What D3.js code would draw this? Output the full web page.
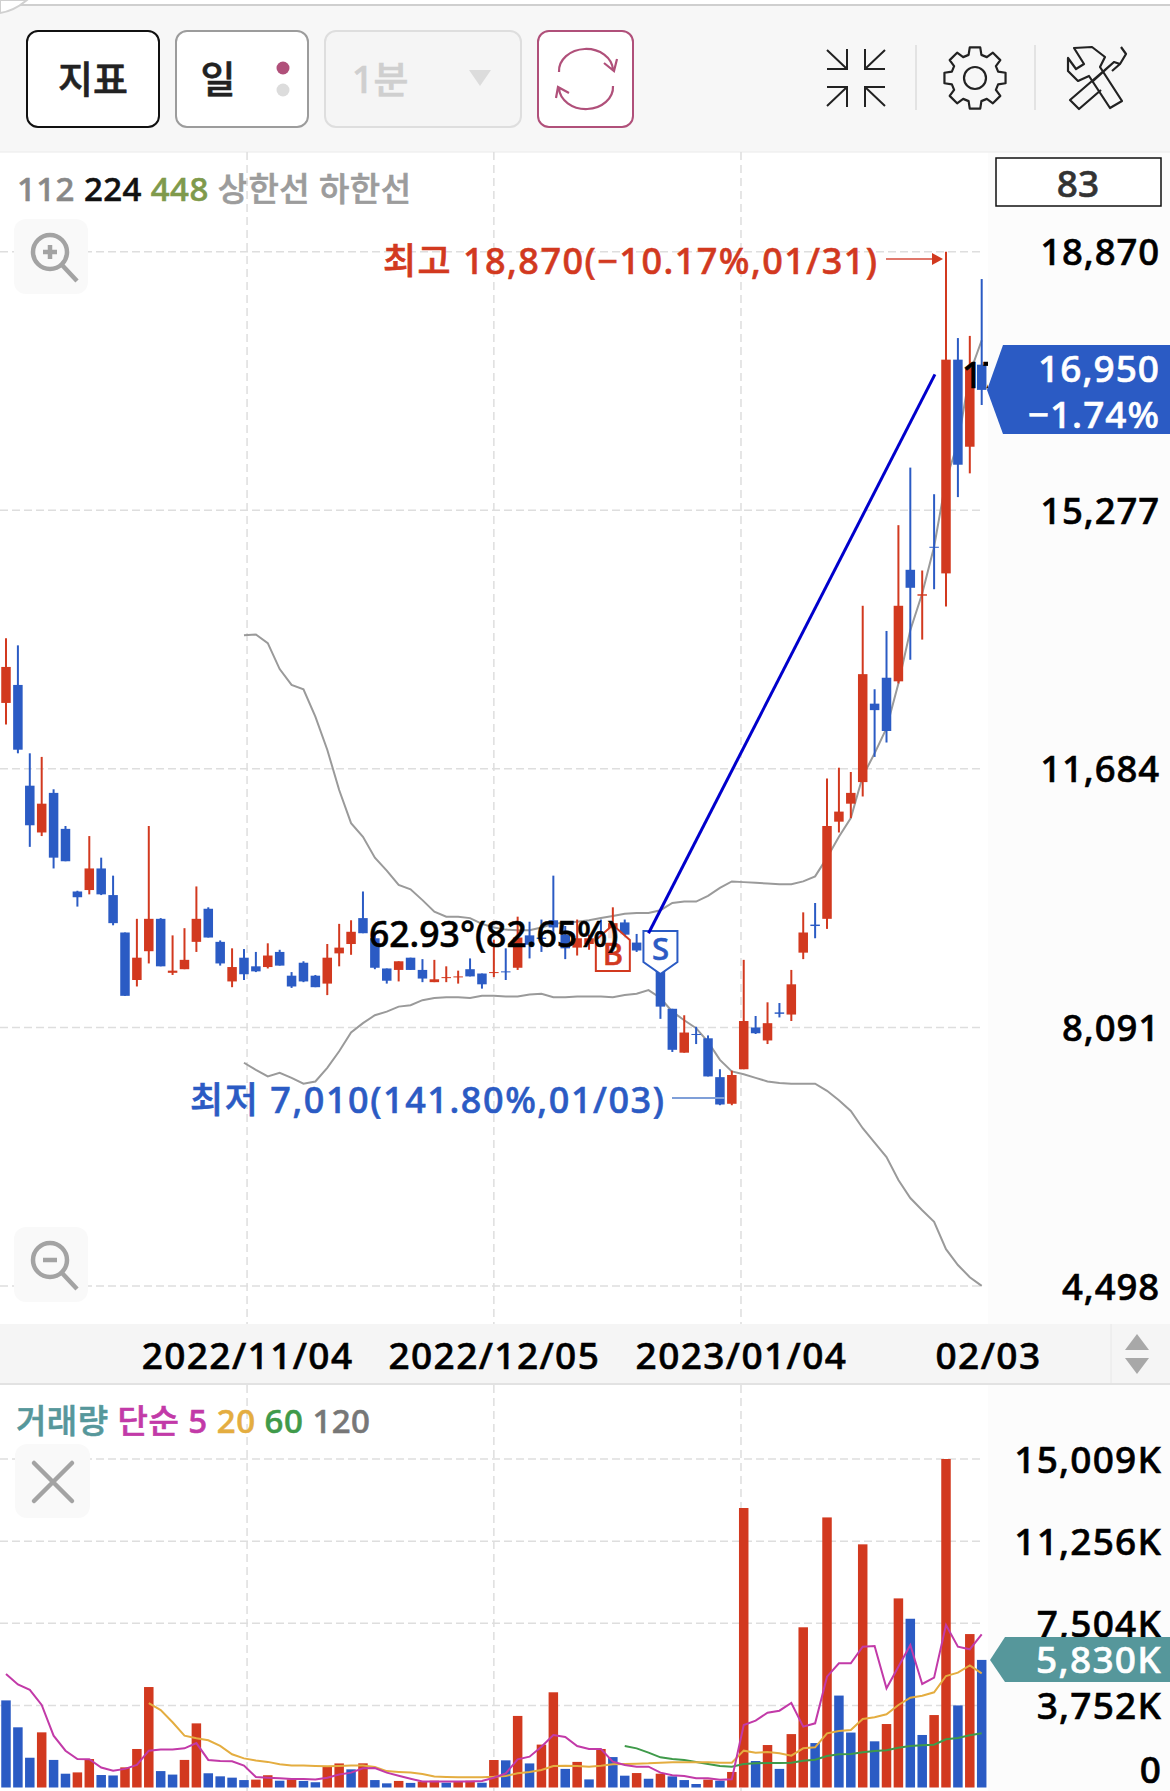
<!DOCTYPE html>
<html>
<head>
<meta charset="utf-8">
<script src="https://cdn.jsdelivr.net/npm/d3@7"></script>
<style>
  html, body { margin:0; padding:0; background:#fff; }
  svg { display:block; }
  text { font-family:"Noto Sans","Noto Sans CJK KR",sans-serif; font-weight:500; }
</style>
</head>
<body>
<div id="chart"></div>
<script>
// candles
var candleOpen = [
 12600,12850,11450,10800,11350,10850,9980,10000,10300,9930,
 9410,8750,9150,9600,8850,8900,9280,9740,9280,8730,
 9060,8940,8930,9140,8810,8990,8810,8700,9120,9250,
 9610,9330,8910,8890,9060,8890,8720,8780,8790,8900,
 8840,8850,8870,8920,9370,9340,9580,9380,9200,9250,
 9340,9330,9550,9270,9240,8980,8350,7740,8000,7940,
 7400,7030,7510,8090,7910,8300,8270,9130,9520,9600,
 10950,11200,11500,12590,12950,12900,14450,14090,14770,14400,
 17370,16160,17300]
var candleClose = [
 13100,11950,10900,11200,10450,10400,9900,10300,9940,9540,
 8530,9060,9600,8940,8880,9030,9600,9340,8980,8930,
 8830,8870,9090,8950,8660,8730,8650,9060,9200,9420,
 9400,8920,8740,9010,8890,8770,8760,8790,8800,8800,
 8690,8860,8860,9340,9240,9320,9480,9190,9330,9330,
 9330,9540,9380,9160,9170,8380,7780,8020,7990,7410,
 7020,7430,8180,8010,8150,8280,8690,9410,9500,10890,
 11090,11350,13000,12500,12210,13950,14200,14110,14760,17370,
 15910,17250,16950]
var candleHigh = [
 13500,13400,11900,11850,11400,10890,9990,10750,10450,10200,
 9410,9600,10890,9610,9370,9470,10050,9760,9300,9190,
 9180,9140,9260,9170,8860,9010,8820,9250,9530,9580,
 9980,9400,8910,9010,9060,9040,9030,8940,8880,9050,
 8840,9310,9190,9630,9560,9590,10200,9500,9590,9380,
 9590,9760,9590,9390,9310,8980,8350,8260,8100,7980,
 7510,7490,9030,8250,8440,8430,8890,9690,9820,11550,
 11700,11640,13950,12790,13600,15070,15870,14440,15500,18870,
 17670,17700,18490]
var candleLow = [
 12300,11900,10600,10750,10300,10400,9770,9940,9930,9510,
 8530,8660,8980,8940,8820,8900,9140,9340,8950,8650,
 8750,8860,8910,8950,8640,8720,8650,8540,8940,9100,
 9400,8900,8700,8730,8890,8720,8720,8720,8700,8800,
 8630,8790,8750,8890,9050,9140,9300,9040,9090,9170,
 9210,9300,9330,9140,9120,8210,7750,7740,7860,7410,
 7010,7010,7510,8000,7860,8230,8180,9040,9330,9460,
 10800,11000,11300,11850,12050,12870,13200,13480,14180,13940,
 15460,15790,16740]

// bands start at candle 20
var bandStart = 20
var upperBand = [
 13540,13550,13430,13070,12850,12790,12410,11950,11390,10930,
 10740,10450,10270,10070,10010,9860,9700,9630,9630,9610,
 9530,9480,9450,9440,9440,9480,9530,9550,9560,9580,
 9610,9640,9670,9680,9680,9720,9820,9840,9840,9920,
 10030,10120,10110,10100,10090,10080,10080,10120,10190,10450,
 10740,11000,11580,11900,12250,12870,13610,14120,14770,15700,
 16210,17180,17640]
var lowerBand = [
 7600,7500,7410,7460,7390,7310,7340,7530,7760,8020,
 8150,8260,8310,8380,8400,8470,8500,8510,8510,8500,
 8530,8530,8520,8520,8550,8560,8510,8510,8520,8520,
 8520,8510,8540,8560,8610,8500,8310,8190,8080,7890,
 7640,7480,7440,7390,7340,7320,7310,7310,7310,7210,
 7080,6930,6690,6490,6290,5970,5720,5550,5390,5010,
 4790,4620,4500]

// volume in K
var volume = [
 3980,2750,1360,2520,1260,630,690,1300,570,550,
 920,1760,4590,750,590,1260,2930,650,510,450,
 340,360,560,310,370,300,240,950,1100,830,
 1104,340,190,300,210,270,310,220,270,310,
 220,1256,1241,3270,1100,1960,4350,850,1170,370,
 1760,1390,540,660,400,630,510,340,160,360,
 310,710,12770,1210,1940,850,2440,7320,2030,12340,
 4200,2510,11110,2110,2900,8640,7710,2400,3310,15009,
 3750,7010,5830]
var ma5 = [
 5190,4710,4460,3770,2370,1680,1300,1290,910,770,
 850,1030,1680,1740,1740,1790,2030,1260,1210,1200,
 1000,480,450,420,390,390,370,450,590,680,
 880,890,680,540,400,270,270,270,270,270,
 297,449,647,1287,1409,1866,2399,2307,1896,1759,
 1759,1180,1028,952,952,678,556,525,419,419,
 358,373,2855,3054,3419,3510,3861,2779,2932,5064,
 5673,5673,6435,6465,4531,5521,6511,4729,5018,7424,
 6435,6313,6998]
var ma20Start = 12
var ma20 = [
 3850,3540,2980,2370,2250,2160,1900,1520,1330,1230,
 1170,1060,1010,1000,980,970,980,1000,1000,940,
 750,710,680,620,500,480,470,470,470,490,
 525,647,708,800,982,998,982,952,998,1058,
 1074,1089,1104,1135,1150,1150,1150,1150,1135,1135,
 1683,1592,1622,1561,1454,1789,1835,2475,2582,2627,
 3130,3206,3343,3769,4105,4196,4348,5094,5247,5582,
 5216]
var ma60Start = 52
var ma60 = [
 1896,1789,1592,1378,1302,1256,1165,1074,982,952,
 1074,1104,1119,1119,1135,1226,1272,1439,1515,1531,
 1607,1668,1698,1820,1896,1927,1957,2201,2262,2384,
 2475]

var priceTicks = [18870,15277,11684,8091,4498]
var volumeTicks = [15009,11256,7504,3752,0]
var dateTickIdx = [20.26,41,61.77,82.53]
var dateTickLabels = ["2022/11/04","2022/12/05","2023/01/04","02/03"]
var trendIdx = [54,78.07]
var trendPrice = [9400,17165]

var red = "#d2391f", blue = "#2b5bc4", teal = "#56979b", pink = "#b0507a"
var gridCol = "#dedede"
var W = 1170, H = 1791, plotR = 988
var fontStack = '"Noto Sans","Noto Sans CJK KR",sans-serif'

var svg = d3.select("#chart").append("svg").attr("width",W).attr("height",H)
var defs = svg.append("defs")
defs.append("clipPath").attr("id","plotclip").append("rect").attr("x",0).attr("y",152).attr("width",plotR).attr("height",H-152)

var x = d3.scaleLinear().domain([0,82]).range([6,981.7])
var y = d3.scaleLinear().domain([4498,18870]).range([1286,251.7])
var yv = d3.scaleLinear().domain([0,15009]).range([1787.5,1459])
var bodyW = 9.5

// backgrounds
svg.append("rect").attr("x",plotR).attr("y",152).attr("width",W-plotR).attr("height",H-152).attr("fill","#fcfcfc")
svg.append("rect").attr("x",0).attr("y",5).attr("width",W).attr("height",147).attr("fill","#f7f7f7")
svg.append("line").attr("x1",0).attr("x2",W).attr("y1",5).attr("y2",5).attr("stroke","#cfcfcf").attr("stroke-width",2)
svg.append("line").attr("x1",0).attr("x2",W).attr("y1",152).attr("y2",152).attr("stroke","#eaeaea")
svg.append("path").attr("d","M0,13 Q14,11 27,0 L0,0 Z").attr("fill","#fff").attr("stroke","#d0d0d0").attr("stroke-width",2)

// toolbar buttons
function button(bx,bw,fill,stroke){
  svg.append("rect").attr("x",bx).attr("y",31).attr("width",bw).attr("height",96).attr("rx",11)
    .attr("fill",fill).attr("stroke",stroke).attr("stroke-width",2)
}
button(27,132,"#fff","#111")
button(176,132,"#fff","#9c9c9c")
button(325,196,"#f5f5f5","#dedede")
button(538,95,"#fff",pink)
function toolText(t,tx,col){
  svg.append("text").attr("x",tx).attr("y",93).attr("text-anchor","middle").attr("font-size",38).attr("fill",col).text(t)
}
toolText("지표",93,"#222")
toolText("일",218,"#222")
toolText("1분",380,"#cfcfcf")
svg.append("circle").attr("cx",283).attr("cy",68).attr("r",6.5).attr("fill",pink)
svg.append("circle").attr("cx",283).attr("cy",90).attr("r",6.5).attr("fill","#dcdcdc")
svg.append("path").attr("d","M469,70 L491,70 L480,86 Z").attr("fill","#dcdcdc")

// refresh
svg.append("path").attr("d","M559,72 A27,22 0 0 1 613,70 M604,63 L614,71 L617,59 M613,86 A27,22 0 0 1 559,88 M556,98 L558,87 L569,93")
  .attr("fill","none").attr("stroke",pink).attr("stroke-width",2.2)

// compress icon
var ico = svg.append("g").attr("transform","translate(856,78)").attr("fill","none").attr("stroke","#222").attr("stroke-width",2)
;[[-1,-1],[1,-1],[-1,1],[1,1]].forEach(function(s){
  ico.append("path").attr("d","M"+(s[0]*29)+","+(s[1]*28)+" L"+(s[0]*9)+","+(s[1]*9)
    +" M"+(s[0]*9)+","+(s[1]*29)+" L"+(s[0]*9)+","+(s[1]*9)+" L"+(s[0]*29)+","+(s[1]*9))
})
svg.append("line").attr("x1",916).attr("x2",916).attr("y1",45).attr("y2",110).attr("stroke","#dcdcdc").attr("stroke-width",1.5)
svg.append("line").attr("x1",1035).attr("x2",1035).attr("y1",45).attr("y2",110).attr("stroke","#dcdcdc").attr("stroke-width",1.5)

// gear
var gearPts = []
for (var g=0;g<8;g++){
  var a0 = (g/8)*Math.PI*2 - Math.PI/2
  ;[[-0.27,24],[-0.17,31],[0.17,31],[0.27,24]].forEach(function(p){
    gearPts.push([975+Math.cos(a0+p[0])*p[1],78+Math.sin(a0+p[0])*p[1]])
  })
}
svg.append("path").attr("d",d3.line().curve(d3.curveLinearClosed)(gearPts)).attr("fill","none").attr("stroke","#222").attr("stroke-width",2.2).attr("stroke-linejoin","round")
svg.append("circle").attr("cx",975).attr("cy",78).attr("r",11).attr("fill","none").attr("stroke","#222").attr("stroke-width",2.2)

// tools
var tool = svg.append("g").attr("transform","translate(1096,79)").attr("fill","none").attr("stroke","#222").attr("stroke-width",2.2).attr("stroke-linejoin","round")
tool.append("path").attr("d","M-22,-31 L-12,-15 L-20,-10 L-28,-21 L-28,-8 L-18,2 L-7,-3 L14,29 L26,22 L4,-12 L9,-22 L-4,-32 Z")
tool.append("path").attr("d","M25,-32 L30,-25 L24,-15 L18,-17 L-26,21 L-17,30 L5,11 M16,-8 L24,-15 M18,-17 L-4,3")

// legend
var lg = svg.append("text").attr("x",17).attr("y",201).attr("font-size",33).attr("textLength",394)
lg.append("tspan").attr("fill","#888").text("112 ")
lg.append("tspan").attr("fill","#111").text("224 ")
lg.append("tspan").attr("fill","#7f9a4c").text("448 ")
lg.append("tspan").attr("fill","#9c9c9c").text("상한선 하한선")

// box with candle count
svg.append("rect").attr("x",996).attr("y",158).attr("width",165).attr("height",48).attr("fill","#fff").attr("stroke","#111").attr("stroke-width",1.5)
svg.append("text").attr("x",1078).attr("y",197).attr("text-anchor","middle").attr("font-size",37).attr("fill","#333").text(candleOpen.length)

// grid
var grid = svg.append("g").attr("stroke",gridCol).attr("stroke-width",1.5)
dateTickIdx.slice(0,3).forEach(function(d){
  ;[[152,1324],[1385,1791]].forEach(function(r){
    grid.append("line").attr("x1",x(d)).attr("x2",x(d)).attr("y1",r[0]).attr("y2",r[1]).attr("stroke-dasharray","8,5")
  })
})
priceTicks.forEach(function(d){
  grid.append("line").attr("x1",0).attr("x2",982).attr("y1",y(d)).attr("y2",y(d)).attr("stroke-dasharray","8,4")
})
volumeTicks.slice(0,4).forEach(function(d){
  grid.append("line").attr("x1",0).attr("x2",982).attr("y1",yv(d)).attr("y2",yv(d)).attr("stroke-dasharray","8,4")
})

// zoom buttons
function zoomBtn(by,plus){
  svg.append("rect").attr("x",14).attr("y",by).attr("width",74).attr("height",75).attr("rx",12).attr("fill","#f9f9f9")
  var cy = by+33
  svg.append("circle").attr("cx",50).attr("cy",cy).attr("r",17).attr("fill","none").attr("stroke","#a3a3a3").attr("stroke-width",4.5)
  svg.append("line").attr("x1",62).attr("y1",cy+13).attr("x2",77).attr("y2",cy+29).attr("stroke","#a3a3a3").attr("stroke-width",4.5)
  svg.append("line").attr("x1",43).attr("y1",cy).attr("x2",57).attr("y2",cy).attr("stroke","#a3a3a3").attr("stroke-width",4.5)
  if(plus) svg.append("line").attr("x1",50).attr("y1",cy-7).attr("x2",50).attr("y2",cy+7).attr("stroke","#a3a3a3").attr("stroke-width",4.5)
}
zoomBtn(219,true)
zoomBtn(1227,false)

// price panel
var pricePlot = svg.append("g").attr("clip-path","url(#plotclip)")
var bandLine = d3.line().x(function(d,i){return x(i+bandStart)}).y(function(d){return y(d)})
;[upperBand,lowerBand].forEach(function(b){
  pricePlot.append("path").attr("d",bandLine(b)).attr("fill","none").attr("stroke","#9a9a9a").attr("stroke-width",2)
})
var idx = d3.range(candleOpen.length)
function isUp(i){ return candleClose[i] >= candleOpen[i] }
pricePlot.selectAll("line.wick").data(idx).enter().append("line")
  .attr("x1",function(i){return x(i)}).attr("x2",function(i){return x(i)})
  .attr("y1",function(i){return y(candleHigh[i])}).attr("y2",function(i){return y(candleLow[i])})
  .attr("stroke",function(i){return isUp(i)?red:blue}).attr("stroke-width",2)
pricePlot.selectAll("rect.body").data(idx).enter().append("rect")
  .attr("x",function(i){return x(i)-bodyW/2}).attr("width",bodyW)
  .attr("y",function(i){return y(Math.max(candleOpen[i],candleClose[i]))})
  .attr("height",function(i){return Math.max(1,Math.abs(y(candleOpen[i])-y(candleClose[i])))})
  .attr("fill",function(i){return isUp(i)?red:blue})

// low / high annotations
var hiIdx = 79, loIdx = 60
svg.append("text").attr("x",383).attr("y",274).attr("font-size",36).attr("textLength",494).attr("fill",red).text("최고 18,870(−10.17%,01/31)")
svg.append("path").attr("d","M886,259 L936,259").attr("stroke","#e0786c").attr("stroke-width",2)
svg.append("path").attr("d","M"+(x(hiIdx)-3)+",259 L"+(x(hiIdx)-14)+",253 L"+(x(hiIdx)-14)+",265 Z").attr("fill",red)
svg.append("text").attr("x",190).attr("y",1113).attr("font-size",36).attr("textLength",474).attr("fill",blue).text("최저 7,010(141.80%,01/03)")
svg.append("line").attr("x1",672).attr("x2",x(loIdx)+5).attr("y1",1098).attr("y2",1098).attr("stroke","#7f9fd8").attr("stroke-width",2)

// B and S signals
var bx = x(51), sx = x(55)
svg.append("path").attr("d","M"+(bx-17)+",971 V940 L"+bx+",925 L"+(bx+17)+",940 V971 Z").attr("fill","#fff").attr("fill-opacity",0.85).attr("stroke",red).attr("stroke-width",2)
svg.append("text").attr("x",bx).attr("y",965).attr("text-anchor","middle").attr("font-size",31).attr("fill",red).text("B")
svg.append("path").attr("d","M"+(sx-17)+",931 H"+(sx+17)+" V962 L"+sx+",974 L"+(sx-17)+",962 Z").attr("fill","#fff").attr("stroke",blue).attr("stroke-width",2)
svg.append("text").attr("x",sx).attr("y",960).attr("text-anchor","middle").attr("font-size",31).attr("fill",blue).text("S")

// trend line + angle labels, above the signals
var overlay = svg.append("g").attr("clip-path","url(#plotclip)")
overlay.append("line").attr("x1",x(trendIdx[0])).attr("y1",y(trendPrice[0])).attr("x2",x(trendIdx[1])).attr("y2",y(trendPrice[1]))
  .attr("stroke","#0000cc").attr("stroke-width",3)
overlay.append("text").attr("x",369).attr("y",947).attr("font-size",35.5).attr("fill","#000").text("62.93°(82.65%)")
overlay.append("text").attr("x",962).attr("y",388).attr("font-size",35.5).attr("fill","#000").text("17.35°")

// price axis
var priceAxis = d3.axisRight(y).tickValues(priceTicks).tickSize(0).tickFormat(d3.format(","))
var pa = svg.append("g").attr("transform","translate(1160,0)").call(priceAxis)
pa.select(".domain").remove()
pa.selectAll("text").attr("x",0).attr("dy",null).attr("y",13).attr("text-anchor","end").attr("font-size",36.5).attr("letter-spacing",0.9)
  .attr("font-family",fontStack).attr("fill","#000")

// current price tag
var curY = y(candleClose[82])
svg.append("path").attr("d","M987,"+curY+" L1003,345 H"+W+" V434 H1003 Z").attr("fill",blue)
svg.append("text").attr("x",1160).attr("y",382).attr("text-anchor","end").attr("font-size",37).attr("letter-spacing",1).attr("fill","#fff").text("16,950")
svg.append("text").attr("x",1160).attr("y",428).attr("text-anchor","end").attr("font-size",37).attr("letter-spacing",1).attr("fill","#fff").text("−1.74%")

// date bar
svg.append("rect").attr("x",0).attr("y",1324).attr("width",W).attr("height",59).attr("fill","#f5f5f5")
svg.append("line").attr("x1",0).attr("x2",W).attr("y1",1384).attr("y2",1384).attr("stroke","#e2e2e2").attr("stroke-width",2)
svg.append("line").attr("x1",1111).attr("x2",1111).attr("y1",1324).attr("y2",1383).attr("stroke","#e8e8e8")
svg.append("path").attr("d","M1137,1334 L1149,1350 L1125,1350 Z M1137,1374 L1149,1358 L1125,1358 Z").attr("fill","#a8a8a8")
var dateAxis = d3.axisBottom(x).tickValues(dateTickIdx).tickSize(0).tickFormat(function(d,i){return dateTickLabels[i]})
var da = svg.append("g").attr("transform","translate(0,1369)").call(dateAxis)
da.select(".domain").remove()
da.selectAll("text").attr("y",0).attr("dy",null).attr("font-size",37).attr("letter-spacing",1.4)
  .attr("font-family",fontStack).attr("fill","#000")

// volume legend
var vl = svg.append("text").attr("x",16).attr("y",1433).attr("font-size",33).attr("textLength",354)
vl.append("tspan").attr("fill",teal).text("거래량 ")
vl.append("tspan").attr("fill","#c23aa8").text("단순 5 ")
vl.append("tspan").attr("fill","#e4ad40").text("20 ")
vl.append("tspan").attr("fill","#3f9a4a").text("60 ")
vl.append("tspan").attr("fill","#777").text("120")

// close button
svg.append("rect").attr("x",15).attr("y",1444).attr("width",75).attr("height",74).attr("rx",12).attr("fill","#f9f9f9")
svg.append("path").attr("d","M34,1463 L72,1501 M72,1463 L34,1501").attr("stroke","#a3a3a3").attr("stroke-width",4.5).attr("stroke-linecap","round")

// volume panel
var volPlot = svg.append("g").attr("clip-path","url(#plotclip)")
volPlot.selectAll("rect.vol").data(volume).enter().append("rect")
  .attr("x",function(d,i){return x(i)-bodyW/2}).attr("width",bodyW)
  .attr("y",function(d){return yv(d)}).attr("height",function(d){return yv(0)-yv(d)})
  .attr("fill",function(d,i){return (i>0 && d>=volume[i-1])?red:blue})
function maLine(vals,start,col){
  var l = d3.line().x(function(d,i){return x(i+start)}).y(function(d){return yv(d)})
  volPlot.append("path").attr("d",l(vals)).attr("fill","none").attr("stroke",col).attr("stroke-width",2)
}
maLine(ma60,ma60Start,"#3f9a4a")
maLine(ma20,ma20Start,"#e4ad40")
maLine(ma5,0,"#c23aa8")

// volume axis
var volAxis = d3.axisRight(yv).tickValues(volumeTicks).tickSize(0).tickFormat(function(d){return d==0?"0":d3.format(",")(d)+"K"})
var va = svg.append("g").attr("transform","translate(1162,0)").call(volAxis)
va.select(".domain").remove()
va.selectAll("text").attr("x",0).attr("dy",null).attr("y",function(d){return d==0?-5:13.5}).attr("text-anchor","end").attr("font-size",37).attr("letter-spacing",1.2)
  .attr("font-family",fontStack).attr("fill","#000")

// current volume tag
var curV = yv(volume[82])
svg.append("path").attr("d","M990,"+curV+" L1005,1637 H"+W+" V1682 H1005 Z").attr("fill",teal)
svg.append("text").attr("x",1162).attr("y",1673).attr("text-anchor","end").attr("font-size",37).attr("letter-spacing",1.3).attr("fill","#fff").text("5,830K")

// text in the picture is a bit heavier than the regular face, thicken it with its own colour
svg.selectAll("text, tspan").each(function(){
  var f = this.getAttribute("fill")
  if(f) d3.select(this).attr("stroke",f).attr("stroke-width",0.6)
})
</script>
</body>
</html>
